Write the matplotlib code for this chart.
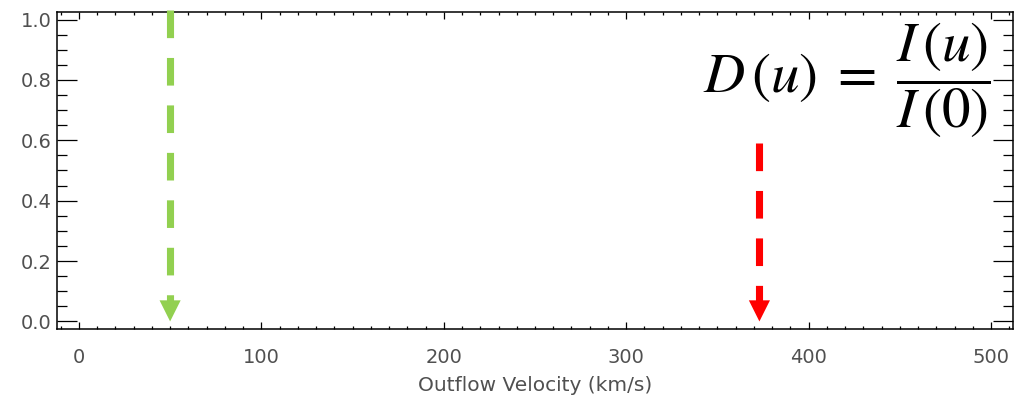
import matplotlib
matplotlib.use("Agg")
import matplotlib.pyplot as plt
from matplotlib.ticker import MultipleLocator

plt.rcParams['mathtext.fontset'] = 'stix'

# velocity marks (km/s), where each dashed arrow starts, colours
arrow_u = [50, 373]
arrow_top = [1.033, 0.59]
arrow_colors = ['#92d050', '#ff0000']

x_range = (-12, 512)
y_range = (-0.025, 1.025)

fig = plt.figure(figsize=(10.15, 3.99), dpi=100)
ax = fig.add_axes([57 / 1015, 70 / 399, 956 / 1015, 317 / 399])
ax.set_xlim(*x_range)
ax.set_ylim(*y_range)

ax.xaxis.set_major_locator(MultipleLocator(100))
ax.xaxis.set_minor_locator(MultipleLocator(10))
ax.yaxis.set_major_locator(MultipleLocator(0.2))
ax.yaxis.set_minor_locator(MultipleLocator(0.05))
ax.yaxis.set_major_formatter(lambda v, p: f"{v:.1f}")

ax.tick_params(which='both', direction='in', top=True, right=True,
               width=0.9, color='black', labelcolor='#505050', labelsize=14)
ax.tick_params(axis='y', which='major', length=14.5, pad=4)
ax.tick_params(axis='y', which='minor', length=7.2)
ax.tick_params(axis='x', which='major', length=5, pad=14)
ax.tick_params(axis='x', which='minor', length=2.5)
for s in ax.spines.values():
    s.set_linewidth(1.1)

ax.set_xlabel('Outflow Velocity (km/s)', fontsize=14.5, color='#505050', labelpad=6)

# dashed shafts with solid heads pointing at D=0
head_base = 0.04
for u, top, c in zip(arrow_u, arrow_top, arrow_colors):
    ax.plot([u, u], [top, head_base], color=c, lw=5.1, dashes=(3.9, 2.8),
            dash_capstyle='butt', clip_on=False, zorder=3)
    ax.annotate('', xy=(u, 0), xytext=(u, 0.2),
                arrowprops=dict(arrowstyle='-|>', mutation_scale=38, lw=0,
                                color=c, shrinkA=0, shrinkB=0),
                zorder=4)

fig.text(0.976, 0.80, r'$D\,(u)\;=\;\dfrac{I\,(u)}{I\,(0)}$', fontsize=41,
         ha='right', va='center', color='black')

fig.savefig('out.png', dpi=100)
